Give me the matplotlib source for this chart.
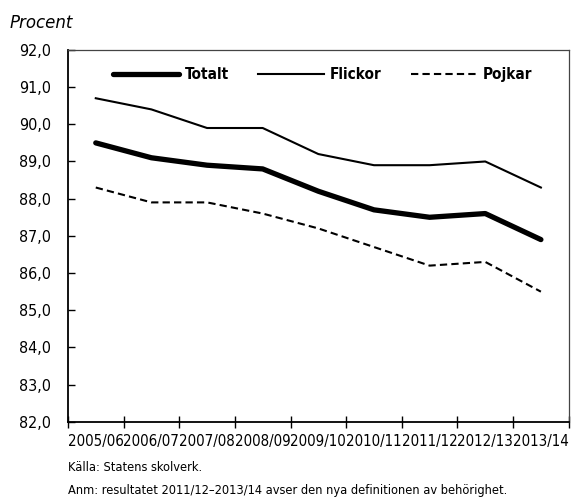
import numpy as np
import matplotlib
matplotlib.use("Agg")
import matplotlib.pyplot as plt
from matplotlib.ticker import FixedLocator

plt.rcParams['font.family'] = ['DejaVu Sans']
plt.rcParams['font.stretch'] = 'condensed'

# Data
years = ["2005/06", "2006/07", "2007/08", "2008/09", "2009/10",
         "2010/11", "2011/12", "2012/13", "2013/14"]
totalt = [89.5, 89.1, 88.9, 88.8, 88.2, 87.7, 87.5, 87.6, 86.9]
flickor = [90.7, 90.4, 89.9, 89.9, 89.2, 88.9, 88.9, 89.0, 88.3]
pojkar = [88.3, 87.9, 87.9, 87.6, 87.2, 86.7, 86.2, 86.3, 85.5]
y_ticks = np.arange(82, 92.1, 1)

fig = plt.figure(figsize=(5.71, 5.04), dpi=100)
ax = fig.add_axes([0.119, 0.163, 0.877, 0.738])

x = np.arange(len(years))
ax.plot(x, totalt, color='black', linewidth=3.8, solid_capstyle='round', label='Totalt')
ax.plot(x, flickor, color='black', linewidth=1.5, label='Flickor')
ax.plot(x, pojkar, color='black', linewidth=1.5, linestyle=(0, (3.5, 2)), label='Pojkar')

ax.set_xlim(-0.5, len(years) - 0.5)
ax.set_ylim(82, 92)
ax.set_yticks(y_ticks)
ax.set_yticklabels([f"{v:.1f}".replace('.', ',') for v in y_ticks], fontsize=11.5)

# categories sit between tick marks, Excel style
ax.xaxis.set_major_locator(FixedLocator(np.arange(-0.5, len(years), 1)))
ax.xaxis.set_major_formatter(plt.NullFormatter())
ax.set_xticks(x, minor=True)
ax.set_xticklabels(years, minor=True, fontsize=10.8)
ax.tick_params(axis='x', which='minor', length=0, pad=9)
ax.tick_params(axis='x', which='major', direction='inout', length=8, width=1)
ax.tick_params(axis='y', direction='in', length=5, width=1, pad=12)

for side in ['left', 'bottom']:
    ax.spines[side].set_linewidth(1.3)
for side in ['top', 'right']:
    ax.spines[side].set_linewidth(0.9)
    ax.spines[side].set_color('#444444')

leg = ax.legend(loc='upper center', ncol=3, frameon=False, bbox_to_anchor=(0.508, 0.99),
                handlelength=4.3, handletextpad=0.4, columnspacing=1.9,
                prop={'weight': 'bold', 'size': 11})

fig.text(0.017, 0.955, "Procent", fontsize=12, style='italic', va='center', stretch='normal')
fig.text(0.119, 0.072, "Källa: Statens skolverk.", fontsize=9.2, va='center')
fig.text(0.119, 0.027, "Anm: resultatet 2011/12\u20132013/14 avser den nya definitionen av behörighet.",
         fontsize=9.2, va='center')

fig.savefig("out.png", dpi=100)
